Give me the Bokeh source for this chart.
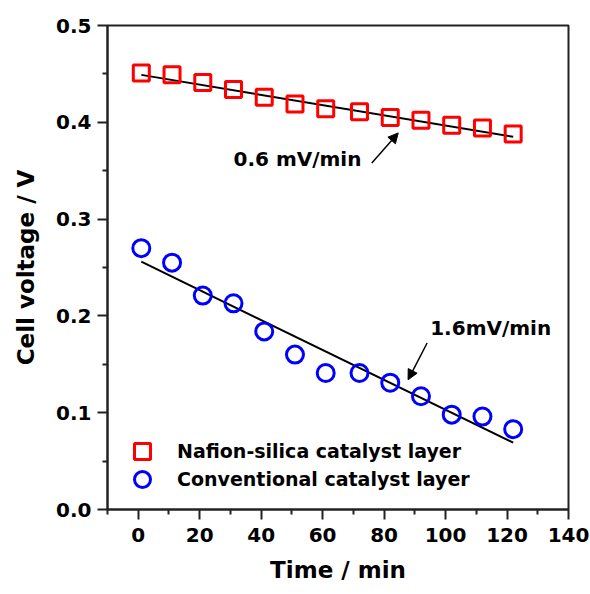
from bokeh.plotting import figure
from bokeh.models import (Range1d, FixedTicker, PrintfTickFormatter, Legend, LegendItem,
                          Arrow, NormalHead, Label)
from bokeh.embed import file_html
from bokeh.resources import INLINE

# ---- data ----
time_min = [1, 11, 21, 31, 41, 51, 61, 72, 82, 92, 102, 112, 122]
nafion_silica = [0.451, 0.449, 0.441, 0.434, 0.426, 0.419, 0.414, 0.411, 0.405, 0.402, 0.397, 0.394, 0.388]
conventional = [0.270, 0.255, 0.221, 0.213, 0.184, 0.160, 0.141, 0.141, 0.131, 0.117, 0.098, 0.096, 0.083]

fit_x = [1, 122]
fit_nafion = [0.449, 0.385]
fit_conv = [0.256, 0.069]

x_ticks = [0, 20, 40, 60, 80, 100, 120, 140]
x_minor = [-10, 10, 30, 50, 70, 90, 110, 130]
y_ticks = [0.0, 0.1, 0.2, 0.3, 0.4, 0.5]
y_minor = [0.05, 0.15, 0.25, 0.35, 0.45]

labels = ["Nafion-silica catalyst layer", "Conventional catalyst layer"]
ann_texts = ["0.6 mV/min", "1.6mV/min"]
ann_text_x = [31, 95]
ann_text_y = [0.362, 0.187]
arrow_start = [(76, 0.358), (94, 0.172)]
arrow_end = [(84.6, 0.389), (87.8, 0.134)]

FONT = "DejaVu Sans"

p = figure(width=590, height=594, output_backend="svg", toolbar_location=None,
           x_range=Range1d(-10, 140), y_range=Range1d(0, 0.5),
           min_border_left=107, min_border_right=22, min_border_top=25, min_border_bottom=85)
p.grid.visible = False
p.outline_line_color = "#222222"
p.outline_line_width = 2
p.background_fill_color = "white"
p.border_fill_color = "white"

for ax in (p.xaxis[0], p.yaxis[0]):
    ax.axis_line_width = 2
    ax.axis_line_color = "#222222"
    ax.major_tick_line_color = "#222222"
    ax.minor_tick_line_color = "#222222"
    ax.major_tick_line_width = 2
    ax.minor_tick_line_width = 2
    ax.major_tick_in = 0
    ax.major_tick_out = 10
    ax.minor_tick_in = 0
    ax.minor_tick_out = 5
    ax.major_label_text_font = FONT
    ax.major_label_text_font_style = "bold"
    ax.major_label_text_font_size = "20px"
    ax.major_label_text_color = "black"
    ax.axis_label_text_font = FONT
    ax.axis_label_text_font_style = "bold"
    ax.axis_label_text_font_size = "23px"
    ax.axis_label_text_color = "black"

p.xaxis.ticker = FixedTicker(ticks=x_ticks, minor_ticks=x_minor)
p.yaxis.ticker = FixedTicker(ticks=y_ticks, minor_ticks=y_minor)
p.xaxis.formatter = PrintfTickFormatter(format="%d")
p.yaxis.formatter = PrintfTickFormatter(format="%.1f")
p.xaxis.major_label_standoff = 8
p.yaxis.major_label_standoff = 6
p.xaxis.axis_label = "Time / min"
p.yaxis.axis_label = "Cell voltage / V"
p.xaxis.axis_label_standoff = 12
p.yaxis.axis_label_standoff = 14

# fit lines
p.line(fit_x, fit_nafion, line_color="black", line_width=2)
p.line(fit_x, fit_conv, line_color="black", line_width=2)

r1 = p.scatter(time_min, nafion_silica, marker="square", size=16, fill_color=None,
               line_color="#ff0000", line_width=3)
r2 = p.scatter(time_min, conventional, marker="circle", size=17, fill_color=None,
               line_color="#0000ff", line_width=3)

for lab, rend, loc in zip(labels, [r1, r2], [(15, 38), (15, 10)]):
    lg = Legend(items=[LegendItem(label=lab, renderers=[rend])],
                location=loc, padding=0, margin=0, spacing=0,
                glyph_width=40, glyph_height=40, label_height=40, label_standoff=15,
                border_line_color=None, background_fill_alpha=0,
                label_text_font=FONT, label_text_font_style="bold",
                label_text_font_size="19px", label_text_color="black")
    p.add_layout(lg)

for t, tx, ty in zip(ann_texts, ann_text_x, ann_text_y):
    p.add_layout(Label(x=tx, y=ty, text=t, text_font=FONT, text_font_style="bold",
                       text_font_size="20px", text_color="black",
                       text_baseline="middle", text_align="left"))

for (xs, ys), (xe, ye) in zip(arrow_start, arrow_end):
    p.add_layout(Arrow(end=NormalHead(size=10, fill_color="black", line_color="black"),
                       x_start=xs, y_start=ys, x_end=xe, y_end=ye,
                       line_color="black", line_width=1.5))

open("out.html", "w").write(file_html(p, INLINE))
